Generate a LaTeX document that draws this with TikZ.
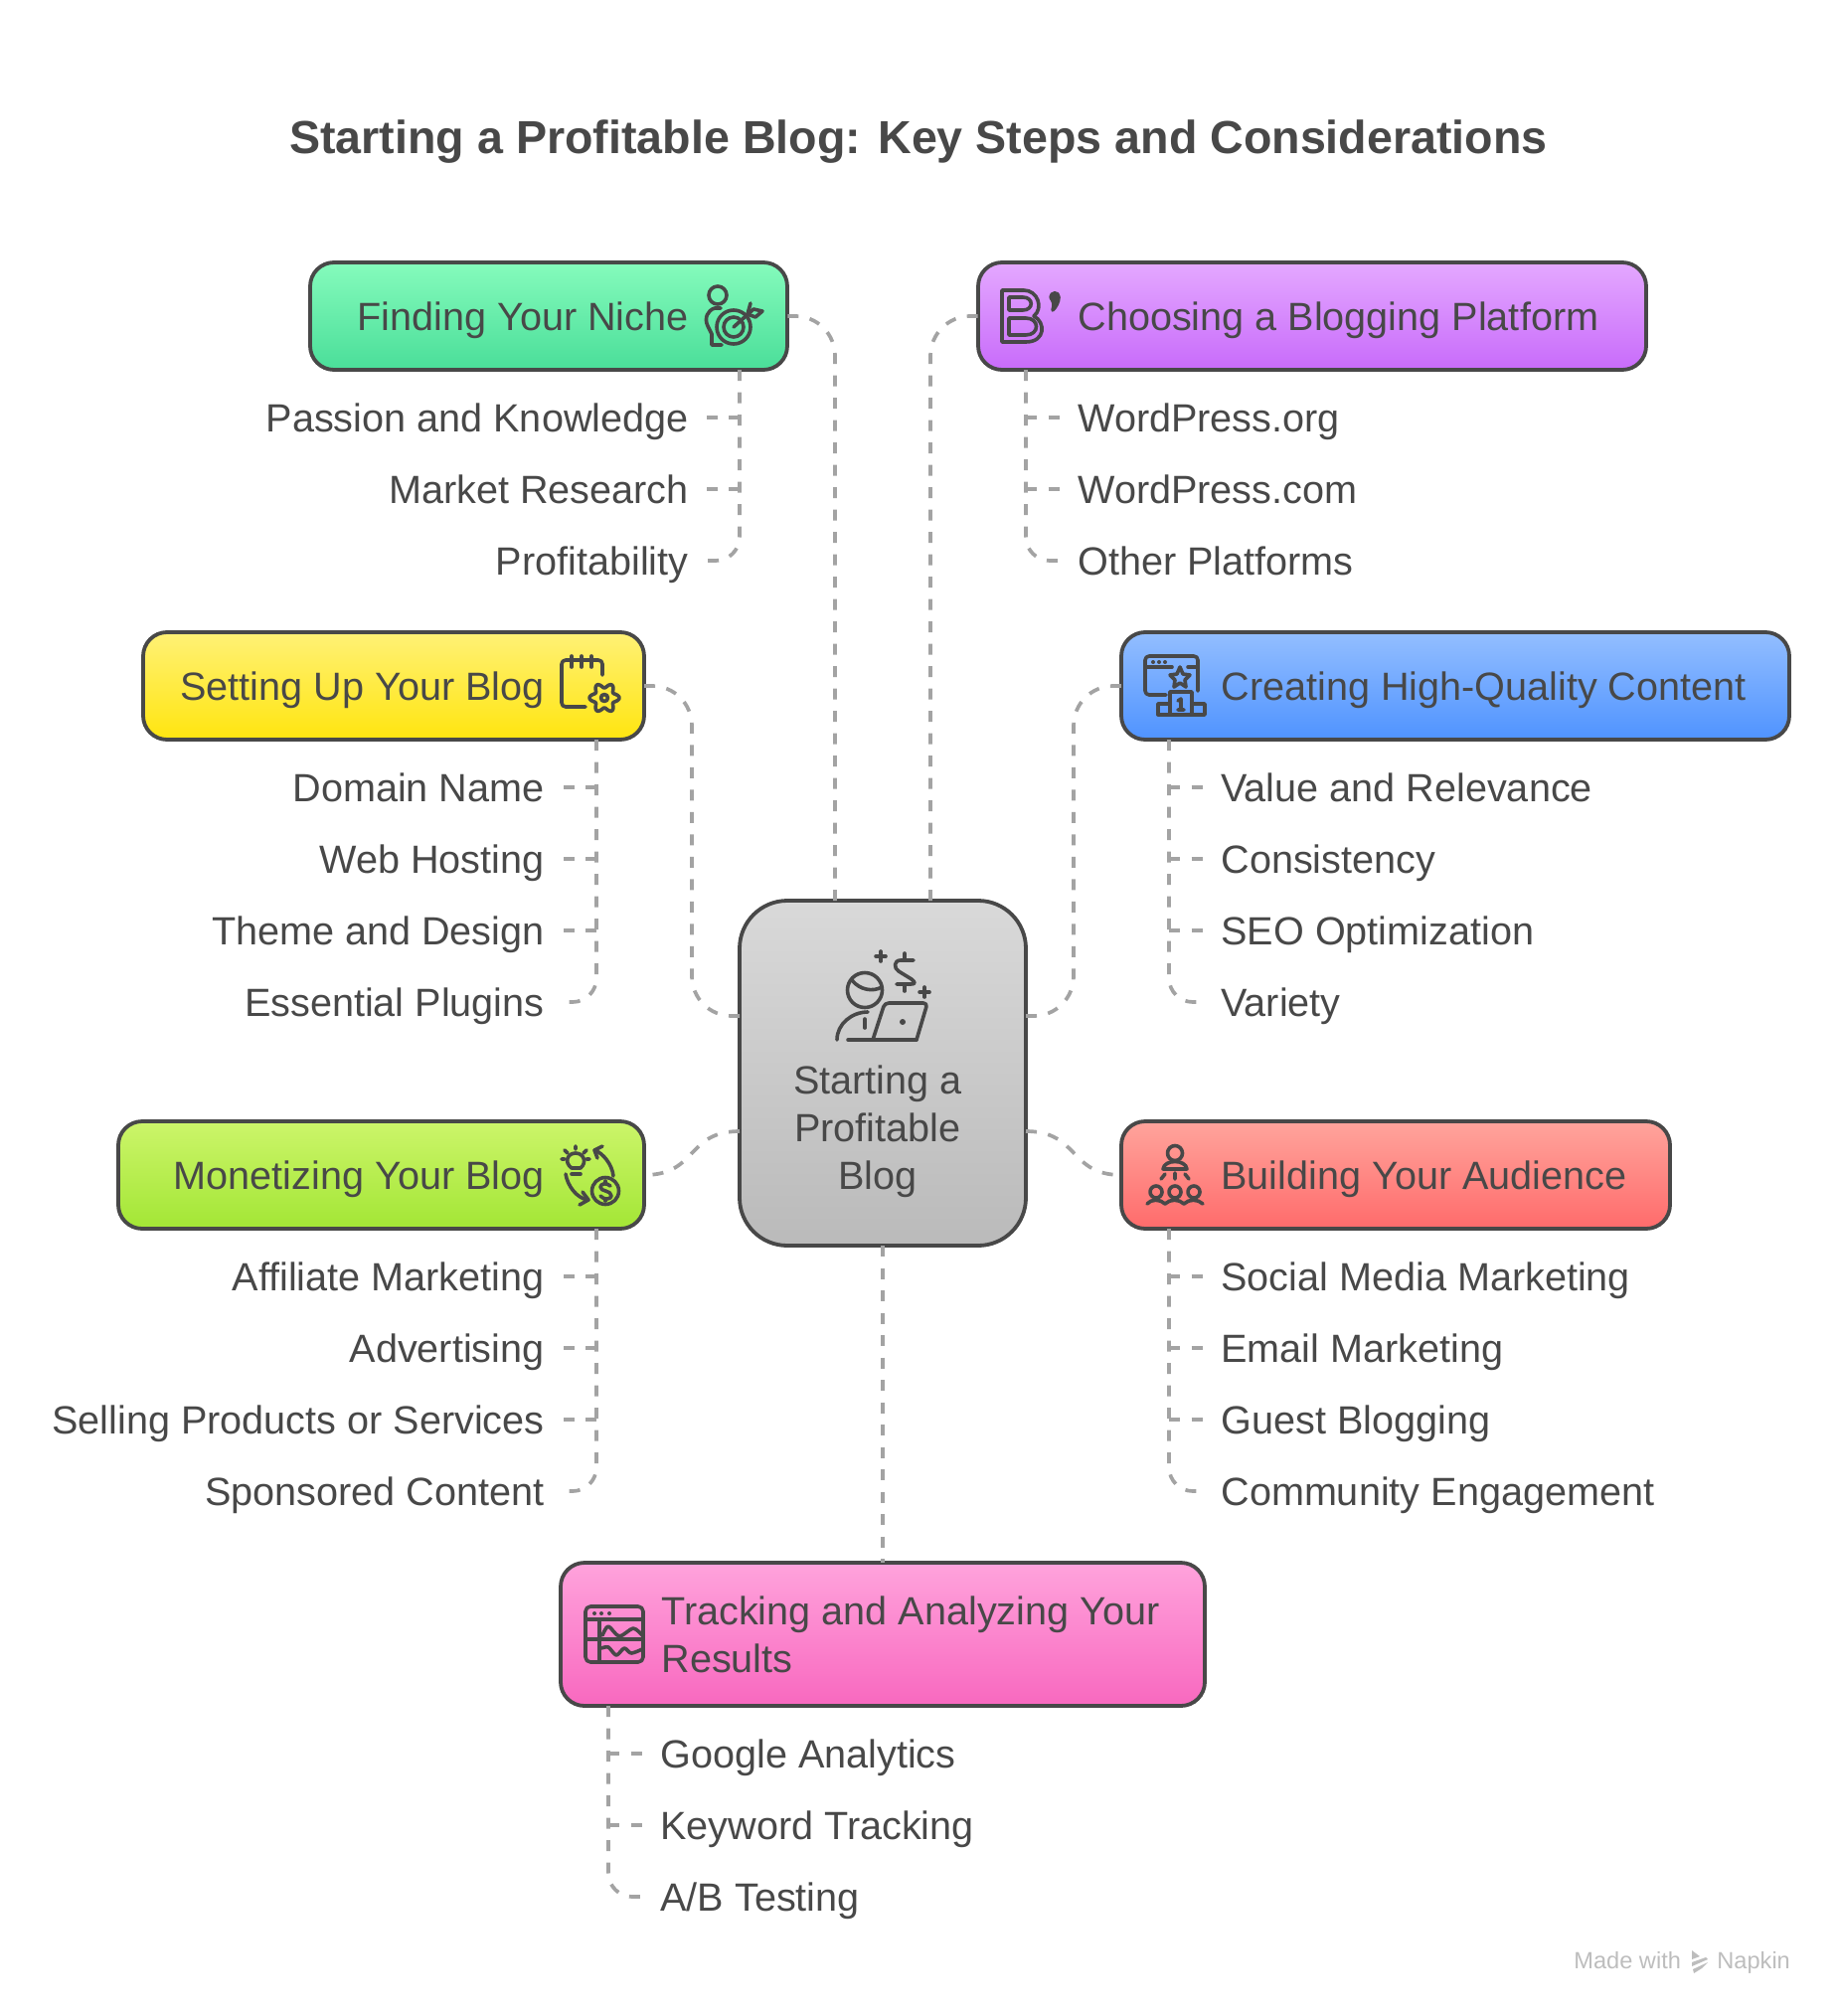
\documentclass[tikz,border=0pt]{standalone}
\usepackage{fontspec}
\setmainfont{Liberation Sans}
\usepackage{tikz}
\usetikzlibrary{calc}
\definecolor{Ink}{HTML}{484848}
\definecolor{Link}{HTML}{A3A3A3}
\definecolor{Mark}{HTML}{BDBDBD}
\definecolor{Main1}{HTML}{D9D9D9}
\definecolor{Main2}{HTML}{BABABA}
\definecolor{Finding1}{HTML}{85FBBC}
\definecolor{Finding2}{HTML}{4ADE99}
\definecolor{Choosing1}{HTML}{E4A8FF}
\definecolor{Choosing2}{HTML}{C86BFA}
\definecolor{Setting1}{HTML}{FFF176}
\definecolor{Setting2}{HTML}{FFE50F}
\definecolor{Creating1}{HTML}{93BEFF}
\definecolor{Creating2}{HTML}{4F93FF}
\definecolor{Money1}{HTML}{CCF56A}
\definecolor{Money2}{HTML}{A3E635}
\definecolor{Audience1}{HTML}{FFA49C}
\definecolor{Audience2}{HTML}{FF6B6B}
\definecolor{Tracking1}{HTML}{FFA3DC}
\definecolor{Tracking2}{HTML}{F868BF}
\tikzset{
    stagebox/.style={draw=Ink,line width=1.9pt,rounded corners=12pt,outer sep=0pt,inner sep=0pt,minimum height=54pt},
    blocktext/.style={text=Ink,font=\fontsize{19.8}{24}\selectfont,inner sep=0pt},
    stagetext/.style={blocktext,text height=19pt,text depth=5pt},
    leftitem/.style={stagetext,anchor=east,inner xsep=8.5pt},
    rightitem/.style={stagetext,anchor=west,inner xsep=8pt},
    link/.style={draw=Link,line width=1.85pt,dash pattern=on 5.5pt off 5.75pt},
    glyph/.style={draw=Ink,line width=1.8pt,line cap=round,line join=round},
}
\begin{document}
\begin{tikzpicture}[x=0.5pt,y=-0.5pt]
    \useasboundingbox (0,0) rectangle (1848,2028);
    \node[text=Ink,font=\fontsize{23.3}{28}\selectfont\bfseries] (heading) at (924,143) {Starting a Profitable Blog: Key Steps and Considerations};

    % centre
    \node[stagebox,rounded corners=24pt,top color=Main1,bottom color=Main2,minimum width=144pt,minimum height=173.5pt] (main) at (888,1079.5) {};
    \node[blocktext,align=center] (mainText) at (883,1138) {Starting a\\Profitable\\Blog};

    % stages
    \node[stagebox,top color=Finding1,bottom color=Finding2,minimum width=240pt] (niche) at (552,318) {};
    \node[stagebox,top color=Choosing1,bottom color=Choosing2,minimum width=336pt] (platform) at (1320,318) {};
    \node[stagebox,top color=Setting1,bottom color=Setting2,minimum width=252pt] (setup) at (396,690) {};
    \node[stagebox,top color=Creating1,bottom color=Creating2,minimum width=336pt] (content) at (1464,690) {};
    \node[stagebox,top color=Money1,bottom color=Money2,minimum width=264.5pt] (money) at (383.5,1182) {};
    \node[stagebox,top color=Audience1,bottom color=Audience2,minimum width=276pt] (audience) at (1404,1182) {};
    \node[stagebox,top color=Tracking1,bottom color=Tracking2,minimum width=324pt,minimum height=72pt] (tracking) at (888,1644) {};

    \node[stagetext,anchor=east] (nicheText) at (693,318) {Finding Your Niche};
    \node[stagetext,anchor=west] (platformText) at (1084,318) {Choosing a Blogging Platform};
    \node[stagetext,anchor=east] (setupText) at (548,690) {Setting Up Your Blog};
    \node[stagetext,anchor=west] (contentText) at (1228,690) {Creating High-Quality Content};
    \node[stagetext,anchor=east] (moneyText) at (548,1182) {Monetizing Your Blog};
    \node[stagetext,anchor=west] (audienceText) at (1228,1182) {Building Your Audience};
    \node[blocktext,anchor=west,align=left] (trackingText) at (665,1644) {Tracking and Analyzing Your\\Results};

    % items
    \node[leftitem] (passion) at (710,420) {Passion and Knowledge};
    \node[leftitem] (market) at (710,492) {Market Research};
    \node[leftitem] (profit) at (710,564) {Profitability};

    \node[rightitem] (wporg) at (1068,420) {WordPress.org};
    \node[rightitem] (wpcom) at (1068,492) {WordPress.com};
    \node[rightitem] (other) at (1068,564) {Other Platforms};

    \node[leftitem] (domain) at (565,792) {Domain Name};
    \node[leftitem] (hosting) at (565,864) {Web Hosting};
    \node[leftitem] (theme) at (565,936) {Theme and Design};
    \node[leftitem] (plugins) at (565,1008) {Essential Plugins};

    \node[rightitem] (value) at (1212,792) {Value and Relevance};
    \node[rightitem] (consistency) at (1212,864) {Consistency};
    \node[rightitem] (seo) at (1212,936) {SEO Optimization};
    \node[rightitem] (variety) at (1212,1008) {Variety};

    \node[leftitem] (affiliate) at (565,1284) {Affiliate Marketing};
    \node[leftitem] (ads) at (565,1356) {Advertising};
    \node[leftitem] (selling) at (565,1428) {Selling Products or Services};
    \node[leftitem] (sponsored) at (565,1500) {Sponsored Content};

    \node[rightitem] (social) at (1212,1284) {Social Media Marketing};
    \node[rightitem] (email) at (1212,1356) {Email Marketing};
    \node[rightitem] (guest) at (1212,1428) {Guest Blogging};
    \node[rightitem] (community) at (1212,1500) {Community Engagement};

    \node[rightitem] (analytics) at (648,1764) {Google Analytics};
    \node[rightitem] (keyword) at (648,1836) {Keyword Tracking};
    \node[rightitem] (abtest) at (648,1908) {A/B Testing};

    % main links
    \coordinate (mainTopA) at (840,906);
    \coordinate (mainTopB) at (936,906);
    \coordinate (mainLeftA) at (744,1022);
    \coordinate (mainLeftB) at (744,1138);
    \coordinate (mainRightA) at (1032,1022);
    \coordinate (mainRightB) at (1032,1138);

    \draw[link,rounded corners=20pt] (mainTopA) |- (niche.east);
    \draw[link,rounded corners=20pt] (mainTopB) |- (platform.west);
    \draw[link,rounded corners=20pt] (mainLeftA) -- ++(-48,0) |- (setup.east);
    \draw[link,rounded corners=20pt] (mainRightA) -- ++(48,0) |- (content.west);
    \draw[link] (mainLeftB) .. controls (690,1138) and (702,1182) .. (money.east);
    \draw[link] (mainRightB) .. controls (1086,1138) and (1075,1182) .. (audience.west);
    \draw[link] (main.south) -- (tracking.north);

    % item stems
    \coordinate (nicheStem) at (744,372);
    \coordinate (platformStem) at (1032,372);
    \coordinate (setupStem) at (600,744);
    \coordinate (contentStem) at (1176,744);
    \coordinate (moneyStem) at (600,1236);
    \coordinate (audienceStem) at (1176,1236);
    \coordinate (trackingStem) at (612,1716);

    \draw[link,rounded corners=12pt] (nicheStem) |- (profit.east);
    \draw[link] (nicheStem |- passion.east) -- (passion.east);
    \draw[link] (nicheStem |- market.east) -- (market.east);

    \draw[link,rounded corners=12pt] (platformStem) |- (other.west);
    \draw[link] (platformStem |- wporg.west) -- (wporg.west);
    \draw[link] (platformStem |- wpcom.west) -- (wpcom.west);

    \draw[link,rounded corners=12pt] (setupStem) |- (plugins.east);
    \draw[link] (setupStem |- domain.east) -- (domain.east);
    \draw[link] (setupStem |- hosting.east) -- (hosting.east);
    \draw[link] (setupStem |- theme.east) -- (theme.east);

    \draw[link,rounded corners=12pt] (contentStem) |- (variety.west);
    \draw[link] (contentStem |- value.west) -- (value.west);
    \draw[link] (contentStem |- consistency.west) -- (consistency.west);
    \draw[link] (contentStem |- seo.west) -- (seo.west);

    \draw[link,rounded corners=12pt] (moneyStem) |- (sponsored.east);
    \draw[link] (moneyStem |- affiliate.east) -- (affiliate.east);
    \draw[link] (moneyStem |- ads.east) -- (ads.east);
    \draw[link] (moneyStem |- selling.east) -- (selling.east);

    \draw[link,rounded corners=12pt] (audienceStem) |- (community.west);
    \draw[link] (audienceStem |- social.west) -- (social.west);
    \draw[link] (audienceStem |- email.west) -- (email.west);
    \draw[link] (audienceStem |- guest.west) -- (guest.west);

    \draw[link,rounded corners=12pt] (trackingStem) |- (abtest.west);
    \draw[link] (trackingStem |- analytics.west) -- (analytics.west);
    \draw[link] (trackingStem |- keyword.west) -- (keyword.west);

    % icon main
    \draw[glyph] (870,996) circle (17.5);
    \draw[glyph] (857,986) .. controls (865,996) and (878,998) .. (887,993);
    \draw[glyph] (842,1046) .. controls (842,1030) and (857,1018) .. (873,1018);
    \draw[glyph] (870,1025) -- (870,1034);
    \draw[glyph] (853,1046) -- (922,1046);
    \draw[glyph,rounded corners=2pt] (878,1046) -- (890,1009) -- (933,1009) -- (922,1046);
    \fill[Ink] (908,1028) circle (3);
    \draw[glyph] (919,966) -- (906,966) .. controls (899,966) and (899,974) .. (904,977) -- (917,985) .. controls (922,989) and (920,990) .. (916,990) -- (902,990);
    \draw[glyph] (910,959) -- (910,965) (910,991) -- (910,997);
    \draw[glyph] (881,962) -- (891,962) (886,957) -- (886,967);
    \draw[glyph] (925,998) -- (935,998) (930,993) -- (930,1003);

    % icon niche
    \draw[glyph] (722,297) circle (9);
    \draw[glyph] (725,310) -- (719,310) .. controls (712,312) and (708,320) .. (712,328) -- (716,336) -- (716,347) -- (726,347);
    \draw[glyph] (738,329) circle (17);
    \draw[glyph] (738,329) circle (10);
    \draw[glyph] (738,329) -- (758,311);
    \draw[glyph] (752,316) -- (755,305) (758,311) -- (767,313) -- (760,319) -- (752,316);

    % icon platform
    \draw[glyph] (1008,292) -- (1030,292) .. controls (1044,292) and (1050,310) .. (1040,318) .. controls (1052,324) and (1052,344) .. (1032,344) -- (1008,344) -- cycle;
    \draw[glyph] (1015,299) -- (1029,299) .. controls (1040,299) and (1040,312) .. (1029,312) -- (1015,312) -- cycle;
    \draw[glyph] (1015,320) -- (1032,320) .. controls (1046,320) and (1046,337) .. (1032,337) -- (1015,337) -- cycle;
    \draw[glyph,fill=Ink] (1057,299) .. controls (1057,294) and (1065,293) .. (1065,299) .. controls (1065,304) and (1062,309) .. (1059,312) .. controls (1061,306) and (1060,304) .. (1057,299);

    % icon setup
    \draw[glyph,rounded corners=2pt] (606,679) -- (606,664) -- (565,664) -- (565,711) -- (589,711);
    \draw[glyph] (575,660) -- (575,671) (585,660) -- (585,671) (595,660) -- (595,671);
    \draw[glyph,shift={(608,702)}] plot[domain=0:360,samples=73,smooth] (\x:{12.5+2.5*cos(6*\x)});
    \draw[glyph] (608,702) circle (3.5);

    % icon content
    \draw[glyph,rounded corners=2pt] (1173,699) -- (1152,699) -- (1152,660) -- (1205,660) -- (1205,695);
    \draw[glyph] (1152,671) -- (1179,671) (1195,671) -- (1205,671);
    \fill[Ink] (1160,666) circle (2) (1166,666) circle (2) (1172,666) circle (2);
    \draw[glyph] (1187,671) -- (1190,678) -- (1197,679) -- (1192,684) -- (1193,691) -- (1187,687) -- (1181,691) -- (1182,684) -- (1177,679) -- (1184,678) -- cycle;
    \draw[glyph] (1177,719) -- (1177,696) -- (1199,696) -- (1199,719);
    \draw[glyph] (1165,719) -- (1165,708) -- (1177,708) (1199,708) -- (1212,708) -- (1212,719) -- (1165,719);
    \draw[glyph] (1185,705) -- (1188,703) -- (1188,714) (1185,714) -- (1191,714);

    % icon money
    \draw[glyph] (575,1175) .. controls (567,1169) and (571,1160) .. (579,1160) .. controls (587,1160) and (591,1169) .. (584,1175) -- cycle;
    \draw[glyph] (575,1181) -- (584,1181);
    \draw[glyph] (579,1153) -- (579,1156) (568,1157) -- (571,1160) (590,1157) -- (587,1160) (565,1166) -- (568,1166) (593,1166) -- (590,1166);
    \draw[glyph] (617,1183) .. controls (616,1172) and (607,1160) .. (598,1157);
    \draw[glyph] (606,1153) -- (598,1157) -- (601,1165);
    \draw[glyph] (569,1181) .. controls (571,1193) and (580,1205) .. (591,1207);
    \draw[glyph] (583,1212) -- (592,1207) -- (586,1199);
    \draw[glyph] (609,1198) circle (13.5);
    \draw[glyph] (614,1193) .. controls (610,1189) and (604,1191) .. (604,1194) .. controls (604,1199) and (615,1197) .. (615,1203) .. controls (615,1206) and (608,1208) .. (604,1203);
    \draw[glyph] (609,1188) -- (609,1190) (609,1206) -- (609,1208);

    % icon audience
    \draw[glyph] (1182,1160) circle (7.5);
    \draw[glyph] (1170,1176) .. controls (1171,1166) and (1193,1166) .. (1194,1176) -- cycle;
    \draw[glyph] (1168,1186) -- (1172,1181) (1182,1186) -- (1182,1180) (1196,1186) -- (1192,1181);
    \draw[glyph] (1163,1199) circle (6) (1182,1199) circle (6) (1201,1199) circle (6);
    \draw[glyph] (1154,1211) .. controls (1158,1206) and (1167,1206) .. (1172,1211) .. controls (1177,1206) and (1186,1206) .. (1191,1211) .. controls (1196,1206) and (1205,1206) .. (1210,1211);

    % icon tracking
    \draw[glyph,rounded corners=2.5pt] (589,1616) rectangle (647,1672);
    \draw[glyph] (589,1629) -- (647,1629) (603,1629) -- (603,1672) (589,1649) -- (647,1649);
    \fill[Ink] (598,1623) circle (2) (605,1623) circle (2) (613,1623) circle (2);
    \draw[glyph] plot[smooth] coordinates {(606,1645) (612,1636) (623,1646) (637,1638) (646,1645)};
    \draw[glyph] plot[smooth] coordinates {(605,1658) (612,1657) (620,1665) (628,1658) (635,1663) (646,1659)};

    % footer
    \node[text=Mark,font=\fontsize{11.8}{14}\selectfont,anchor=base west,inner sep=0pt] (madeWith) at (1583,1980) {Made with};
    \node[text=Mark,font=\fontsize{11.8}{14}\selectfont,anchor=base west,inner sep=0pt] (napkin) at (1727,1980) {Napkin};
    \fill[Mark] (1702,1962) -- (1710,1968) -- (1702,1971) -- cycle;
    \fill[Mark] (1702,1974) -- (1716,1969) -- (1718,1971) -- (1702,1978) -- cycle;
    \fill[Mark] (1703,1981) -- (1718,1974) -- (1712,1980) -- (1704,1985) -- cycle;
\end{tikzpicture}
\end{document}
